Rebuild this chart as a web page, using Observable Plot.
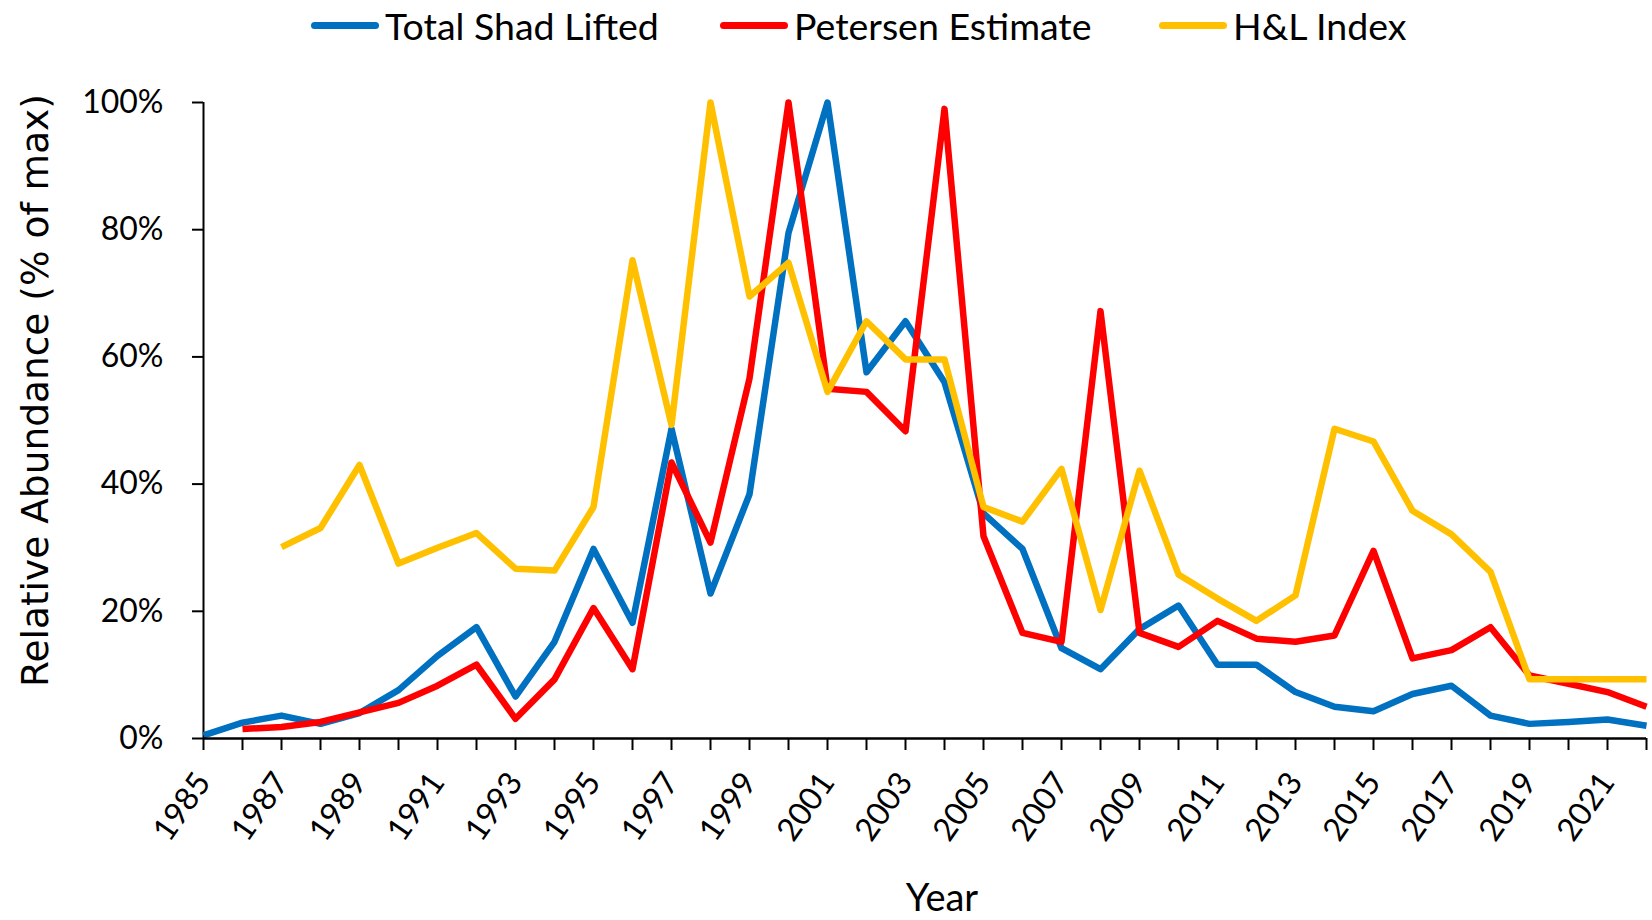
<!DOCTYPE html>
<html>
<head>
<meta charset="utf-8">
<script src="https://cdn.jsdelivr.net/npm/d3@7"></script>
<script src="https://cdn.jsdelivr.net/npm/@observablehq/plot@0.6"></script>
<style>
  html, body { margin: 0; padding: 0; background: #fff; }
  #legend { position: relative; height: 50px; width: 1652px; font-family: Lato, "Open Sans", sans-serif; }
  .item { position: absolute; top: 0; height: 50px; display: flex; align-items: center; font-size: 37.5px; color: #000; white-space: nowrap; }
  .sw { display: inline-block; width: 68px; height: 7px; border-radius: 4px; margin-right: 6px; }
</style>
</head>
<body>
<div id="legend"></div>
<div id="chart"></div>
<script>
const years = [1985,1986,1987,1988,1989,1990,1991,1992,1993,1994,1995,1996,1997,1998,1999,2000,2001,2002,2003,2004,2005,2006,2007,2008,2009,2010,2011,2012,2013,2014,2015,2016,2017,2018,2019,2020,2021,2022];
const labelYears = [1985,1987,1989,1991,1993,1995,1997,1999,2001,2003,2005,2007,2009,2011,2013,2015,2017,2019,2021];
const yTicks = [0,20,40,60,80,100];

const seriesNames = ["Total Shad Lifted", "Petersen Estimate", "H&L Index"];
const seriesColors = ["#0070C0", "#FF0000", "#FFC000"];

const totalShadLifted = [0.5,2.5,3.6,2.3,4.0,7.6,13.0,17.5,6.6,15.2,29.8,18.2,48.7,22.8,38.4,79.5,100,57.6,65.6,56.0,35.4,29.8,14.2,10.9,17.2,20.9,11.6,11.6,7.3,5.0,4.3,7.0,8.3,3.6,2.3,2.6,3.0,2.0];
const petersenEstimate = [null,1.5,1.8,2.6,4.1,5.6,8.3,11.6,3.1,9.3,20.5,10.9,43.4,30.8,56.6,100,55.0,54.5,48.3,99.0,31.8,16.6,15.2,67.2,16.6,14.4,18.5,15.7,15.2,16.2,29.5,12.6,13.9,17.5,9.9,8.6,7.3,5.0];
const hlIndex = [null,null,30.1,33.1,43.0,27.5,30.0,32.3,26.7,26.4,36.4,75.2,49.3,100,69.5,74.8,54.5,65.6,59.6,59.6,36.4,34.1,42.4,20.2,42.1,25.8,22.0,18.5,22.5,48.7,46.7,35.8,32.1,26.2,9.3,9.3,9.3,9.3];

const seriesValues = [totalShadLifted, petersenEstimate, hlIndex];

// legend
const legendX = [311, 720, 1159];
const legend = document.getElementById("legend");
seriesNames.forEach((name, i) => {
  const it = document.createElement("div");
  it.className = "item";
  it.style.left = legendX[i] + "px";
  const sw = document.createElement("span");
  sw.className = "sw";
  sw.style.background = seriesColors[i];
  it.appendChild(sw);
  it.appendChild(document.createTextNode(name));
  legend.appendChild(it);
});

const tables = seriesValues.map((vals) => years.map((y, j) => ({year: y, value: vals[j]})));

const chart = Plot.plot({
  width: 1652,
  height: 870,
  marginLeft: 203,
  marginRight: 6,
  marginTop: 52,
  marginBottom: 182,
  style: {background: "#fff", color: "#000"},
  x: {domain: [1985, 2022]},
  y: {domain: [0, 100]},
  marks: [
    Plot.axisY({ticks: yTicks, tickFormat: d => d + "%", tickSize: 11, tickPadding: 29, fontSize: 32, fontFamily: "Lato, sans-serif", label: null, stroke: "#000", strokeWidth: 2}),
    Plot.axisX({ticks: years, tickFormat: () => "", tickSize: 12, label: null, stroke: "#000", strokeWidth: 2}),
    Plot.axisX({ticks: labelYears, tickFormat: d => String(d), tickSize: 0, tickPadding: 38, tickRotate: -55, fontSize: 32, fontFamily: "Lato, sans-serif", label: null}),
    Plot.ruleX([1985], {y1: 0, y2: 100, stroke: "#000", strokeWidth: 2}),
    ...tables.map((t, i) => Plot.line(t, {x: "year", y: "value", stroke: seriesColors[i], strokeWidth: 6.5, strokeLinejoin: "round", strokeLinecap: "butt"})),
    Plot.ruleY([0], {stroke: "#000", strokeWidth: 2.5}),
    Plot.text(["Year"], {frameAnchor: "bottom", dx: 17, dy: 172, fontSize: 38, fontFamily: "Lato, sans-serif", fill: "#000"}),
    Plot.text(["Relative Abundance (% of max)"], {frameAnchor: "left", textAnchor: "middle", dx: -168, dy: -30, rotate: -90, fontSize: 37.5, fontFamily: "'DejaVu Sans', sans-serif", fill: "#000"})
  ]
});
document.getElementById("chart").appendChild(chart);
</script>
</body>
</html>
